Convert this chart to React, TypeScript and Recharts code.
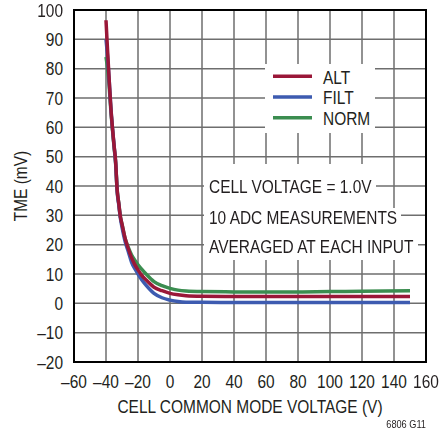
import React from "react";
import { LineChart, Line, XAxis, YAxis, CartesianGrid, ReferenceArea, Legend } from "recharts";

const xValues = [-40, -39, -38, -37, -36, -35, -34, -33, -32, -31, -30, -28, -26, -24, -22, -20, -18, -15, -10, -5, 0, 5, 10, 20, 40, 60, 80, 100, 120, 150];
const altValues = [96.5, 86, 76, 67, 60, 54, 48.5, 38.5, 34, 29.5, 27, 22, 18.5, 15.5, 13.2, 11.4, 9.8, 8, 5.5, 4.3, 3.4, 2.9, 2.6, 2.4, 2.3, 2.3, 2.3, 2.3, 2.3, 2.3];
const filtValues = [90, 84, 76, 67, 60, 54, 48, 38, 33.5, 29, 26, 21, 17.5, 14, 11.8, 10, 8.3, 6.2, 3.4, 1.9, 1.1, 0.6, 0.4, 0.35, 0.3, 0.3, 0.3, 0.3, 0.3, 0.3];
const normValues = [84, 80, 74, 66, 59.5, 53.5, 48, 38.5, 34, 29.5, 27, 22, 19, 16.5, 14.7, 13.1, 11.8, 10, 7.4, 6, 5.1, 4.5, 4.2, 4.0, 3.9, 3.9, 3.9, 4.0, 4.1, 4.3];

const xTicks = [-60, -40, -20, 0, 20, 40, 60, 80, 100, 120, 140, 160];
const yTicks = [-20, -10, 0, 10, 20, 30, 40, 50, 60, 70, 80, 90, 100];
const seriesNames = ["ALT", "FILT", "NORM"];
const seriesColors = ["#9a1738", "#3d5bb0", "#3b8d50"];
const annotationLines = ["CELL VOLTAGE = 1.0V", "10 ADC MEASUREMENTS", "AVERAGED AT EACH INPUT"];
const xLabel = "CELL COMMON MODE VOLTAGE (V)";
const yLabel = "TME (mV)";
const footnote = "6806 G11";

const data = xValues.map((x, i) => ({
  x,
  ALT: altValues[i],
  FILT: filtValues[i],
  NORM: normValues[i],
}));

const FONT = "'Liberation Sans', Arial, sans-serif";
const SX = 0.86;
const TXT = "#231f20";
const W = 439;
const H = 435;

const fmt = (v: number) => (v < 0 ? "\u2013" + Math.abs(v) : String(v));

type NTProps = {
  x: number;
  y: number;
  anchor?: "start" | "middle" | "end";
  size?: number;
  sx?: number;
  rotate?: number;
  children: React.ReactNode;
};

const NarrowText = ({ x, y, anchor = "start", size = 18, sx = SX, rotate = 0, children }: NTProps) => (
  <g transform={`translate(${x},${y}) rotate(${rotate}) scale(${sx},1)`}>
    <text x={0} y={0} textAnchor={anchor} fontFamily={FONT} fontSize={size} fill={TXT}>
      {children}
    </text>
  </g>
);

const XTick = (props: any) => (
  <NarrowText x={props.x} y={props.y + 26} anchor="middle">
    {fmt(props.payload.value)}
  </NarrowText>
);

const YTick = (props: any) => (
  <NarrowText x={props.x - 11} y={props.y + 6.5} anchor="end">
    {fmt(props.payload.value)}
  </NarrowText>
);

const LegendContent = () => (
  <svg width={110} height={69} style={{ display: "block" }}>
    {seriesNames.map((n, i) => (
      <g key={n}>
        <line x1={8} x2={47} y1={12.3 + i * 20.7} y2={12.3 + i * 20.7} stroke={seriesColors[i]} strokeWidth={3.5} />
        <NarrowText x={58} y={19.5 + i * 20.7}>
          {n}
        </NarrowText>
      </g>
    ))}
  </svg>
);

const annoBoxes = [
  { x: 204, y: 164, w: 172, h: 44, base: 193.3 },
  { x: 204, y: 208, w: 197, h: 31, base: 224 },
  { x: 204, y: 239, w: 214, h: 21, base: 253.3 },
];

export default function App() {
  return (
    <div style={{ width: W - 16, height: H - 16 }}>
      <div style={{ position: "fixed", left: 0, top: 0, width: W, height: H, background: "#fff" }}>
        <style>{`.recharts-surface{overflow:visible}`}</style>
        <LineChart width={W} height={H} data={data} margin={{ top: 10, right: 13, bottom: 13, left: 0 }}>
          <CartesianGrid stroke="#6e6e6e" strokeWidth={1.5} />
          <XAxis
            dataKey="x"
            type="number"
            domain={[-60, 160]}
            ticks={xTicks}
            axisLine={false}
            tickLine={false}
            tickSize={0}
            tickMargin={0}
            height={60}
            interval={0}
            tick={XTick}
            label={(props: any) => {
              const vb = props.viewBox;
              return (
                <NarrowText x={vb.x + vb.width / 2} y={413} anchor="middle">
                  {xLabel}
                </NarrowText>
              );
            }}
          />
          <YAxis
            type="number"
            domain={[-20, 100]}
            ticks={yTicks}
            axisLine={false}
            tickLine={false}
            tickSize={0}
            tickMargin={0}
            width={74}
            interval={0}
            tick={YTick}
            label={(props: any) => {
              const vb = props.viewBox;
              const cy = vb.y + vb.height / 2;
              return (
                <NarrowText x={27} y={cy} anchor="middle" rotate={-90}>
                  {yLabel}
                </NarrowText>
              );
            }}
          />
          <ReferenceArea x1={-60} x2={160} y1={-20} y2={100} fill="none" stroke="#000" strokeWidth={2} ifOverflow="visible" />
          <Legend
            layout="horizontal"
            verticalAlign="middle"
            align="center"
            content={() => <LegendContent />}
            wrapperStyle={{ position: "absolute", left: 265, top: 64, width: 110, height: 69, background: "#fff" }}
          />
          <Line type="monotone" dataKey="NORM" stroke={seriesColors[2]} strokeWidth={3.5} dot={false} isAnimationActive={false} />
          <Line type="monotone" dataKey="FILT" stroke={seriesColors[1]} strokeWidth={3.5} dot={false} isAnimationActive={false} />
          <Line type="monotone" dataKey="ALT" stroke={seriesColors[0]} strokeWidth={3.5} dot={false} isAnimationActive={false} />
        </LineChart>
        <svg width={W} height={H} style={{ position: "absolute", left: 0, top: 0, pointerEvents: "none", overflow: "visible" }}>
          {annoBoxes.map((b, i) => (
            <rect key={i} x={b.x} y={b.y} width={b.w} height={b.h} fill="#fff" />
          ))}
          {annoBoxes.map((b, i) => (
            <NarrowText key={"t" + i} x={209} y={b.base}>
              {annotationLines[i]}
            </NarrowText>
          ))}
          <NarrowText x={426} y={428.3} anchor="end" size={11.5} sx={0.8}>
            {footnote}
          </NarrowText>
        </svg>
      </div>
    </div>
  );
}
